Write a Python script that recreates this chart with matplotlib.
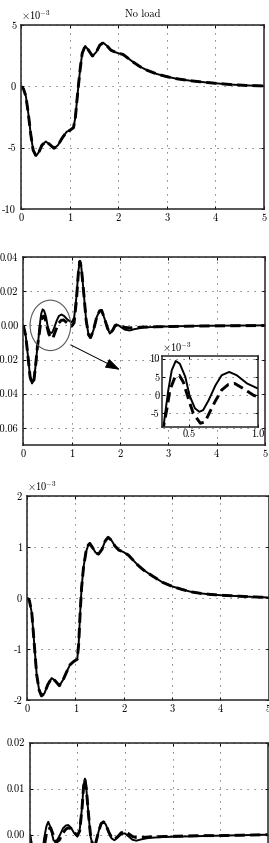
import matplotlib
matplotlib.use("Agg")
import matplotlib.pyplot as plt
from matplotlib.patches import Ellipse

plt.rcParams["font.family"] = ["cmr10", "DejaVu Serif"]
plt.rcParams["mathtext.fontset"] = "cm"
plt.rcParams["axes.unicode_minus"] = False
plt.rcParams["axes.formatter.use_mathtext"] = True

W, H = 269, 843
FS = 7.5

# panel 1 (x 1e-3), no load
p1_t = [0, 0.05, 0.1, 0.15, 0.2, 0.25, 0.31, 0.37, 0.43, 0.51, 0.58, 0.68, 0.76, 0.85, 0.94, 1.0,
        1.08, 1.12, 1.15, 1.18, 1.22, 1.26, 1.32, 1.38, 1.47, 1.55, 1.62, 1.69, 1.77, 1.85, 1.93,
        2.0, 2.1, 2.2, 2.3, 2.45, 2.6, 2.8, 3.0, 3.2, 3.5, 3.8, 4.0, 4.3, 4.6, 5.0]
p1_v = [0, -0.2, -0.8, -2.2, -3.9, -5.2, -5.68, -5.35, -4.8, -4.5, -4.7, -5.05, -4.8, -4.2, -3.7, -3.6,
        -3.37, -2.5, -1.2, 0.0, 1.5, 2.7, 3.29, 3.0, 2.47, 2.8, 3.35, 3.56, 3.3, 2.95, 2.8,
        2.7, 2.6, 2.3, 2.0, 1.6, 1.3, 1.0, 0.79, 0.62, 0.45, 0.32, 0.25, 0.15, 0.08, 0.03]

# panel 2
p2_t = [0, 0.05, 0.1, 0.14, 0.18, 0.22, 0.26, 0.29, 0.31, 0.32, 0.346, 0.371, 0.40, 0.43, 0.47,
        0.50, 0.54, 0.572, 0.60, 0.64, 0.69, 0.735, 0.79, 0.845, 0.92, 1.0, 1.05, 1.1, 1.14, 1.17,
        1.2, 1.25, 1.3, 1.35, 1.39, 1.45, 1.52, 1.58, 1.62, 1.68, 1.74, 1.79, 1.85, 1.9, 1.96,
        2.02, 2.1, 2.2, 2.3, 2.5, 2.8, 3.2, 3.6, 4.0, 4.5, 5.0]
p2_solid = [0, -0.006, -0.019, -0.030, -0.034, -0.032, -0.022, -0.013, -0.009, -0.0059, 0.0014,
            0.0068, 0.00935, 0.0086, 0.0050, 0.0, -0.0036, -0.00455, -0.0041, -0.0014, 0.0027,
            0.00545, 0.00635, 0.00545, 0.0032, 0.0018, 0.004, 0.017, 0.032, 0.0375, 0.034, 0.019,
            0.003, -0.0055, -0.0072, -0.003, 0.005, 0.0085, 0.0088, 0.004, -0.0015, -0.0048,
            -0.003, -0.0005, 0.0002, -0.001, -0.0025, -0.0030, -0.0022, -0.0012, -0.0008,
            -0.0005, -0.0003, -0.0002, -0.0001, 0.0]
p2d_t = [0, 0.05, 0.1, 0.14, 0.18, 0.22, 0.26, 0.29, 0.31, 0.334, 0.358, 0.395, 0.426, 0.455,
         0.492, 0.528, 0.58, 0.614, 0.65, 0.686, 0.735, 0.783, 0.83, 0.893, 0.966, 1.0, 1.05,
         1.1, 1.14, 1.17, 1.2, 1.25, 1.3, 1.35, 1.39, 1.45, 1.52, 1.58, 1.62, 1.68, 1.74, 1.79,
         1.85, 1.9, 1.96, 2.02, 2.1, 2.2, 2.3, 2.5, 2.8, 3.2, 3.6, 4.0, 4.5, 5.0]
p2_dash = [0, -0.006, -0.019, -0.030, -0.034, -0.032, -0.022, -0.013, -0.0088, -0.0041, 0.0014,
           0.0050, 0.00545, 0.0036, -0.0009, -0.0050, -0.0077, -0.0073, -0.0045, -0.0018, 0.0014,
           0.0029, 0.0032, 0.0018, 0.0, -0.0005, 0.0015, 0.015, 0.031, 0.0375, 0.034, 0.019,
           0.003, -0.0055, -0.0072, -0.003, 0.005, 0.0085, 0.0088, 0.004, -0.0015, -0.0046,
           -0.0028, 0.0, 0.0005, -0.0003, -0.0012, -0.0015, -0.0013, -0.0010, -0.0008, -0.0006,
           -0.0004, -0.0003, -0.0002, -0.0001]

# panel 3 (x 1e-3)
p3_t = [0, 0.05, 0.1, 0.15, 0.2, 0.25, 0.3, 0.36, 0.43, 0.51, 0.58, 0.67, 0.75, 0.82, 0.89, 0.96,
        1.04, 1.07, 1.1, 1.13, 1.17, 1.22, 1.27, 1.3, 1.35, 1.42, 1.48, 1.55, 1.62, 1.68, 1.75,
        1.82, 1.9, 2.0, 2.1, 2.2, 2.3, 2.41, 2.6, 2.8, 3.0, 3.2, 3.4, 3.6, 3.8, 4.0, 4.3, 4.6, 5.0]
p3_v = [0, -0.05, -0.3, -0.9, -1.5, -1.8, -1.92, -1.87, -1.7, -1.57, -1.62, -1.72, -1.6, -1.45,
        -1.31, -1.25, -1.2, -0.9, -0.3, 0.2, 0.6, 0.9, 1.04, 1.07, 1.0, 0.89, 0.86, 0.95, 1.12,
        1.19, 1.13, 1.02, 0.94, 0.9, 0.84, 0.74, 0.64, 0.55, 0.43, 0.31, 0.23, 0.17, 0.12, 0.09,
        0.07, 0.055, 0.04, 0.025, 0.01]

# panel 4
p4_t = [0, 0.05, 0.1, 0.15, 0.2, 0.25, 0.3, 0.35, 0.39, 0.44, 0.5, 0.55, 0.62, 0.7, 0.76, 0.81,
        0.87, 0.93, 1.0, 1.05, 1.1, 1.13, 1.16, 1.19, 1.23, 1.28, 1.33, 1.38, 1.45, 1.5, 1.55,
        1.6, 1.66, 1.72, 1.78, 1.85, 1.92, 2.0, 2.08, 2.16, 2.24, 2.35, 2.5, 2.8, 3.2, 3.6, 4.0,
        4.5, 5.0]
p4_solid = [0, -0.003, -0.008, -0.011, -0.010, -0.006, -0.001, 0.0018, 0.0028, 0.0015, -0.0012,
            -0.0016, -0.0004, 0.0014, 0.0020, 0.0021, 0.0015, 0.0004, -0.0004, 0.001, 0.006,
            0.0105, 0.0122, 0.010, 0.005, -0.0005, -0.0025, -0.0022, 0.0008, 0.0024, 0.0028,
            0.0022, 0.0005, -0.0008, -0.0012, -0.0006, 0.0001, 0.0003, -0.0004, -0.0011, -0.0013,
            -0.0010, -0.0007, -0.0005, -0.0004, -0.0003, -0.0002, -0.0001, 0.0]
p4_dash = [0, -0.003, -0.008, -0.011, -0.010, -0.007, -0.003, 0.0002, 0.0012, 0.0015, -0.0002,
           -0.0017, -0.0012, 0.0004, 0.0012, 0.0015, 0.0013, 0.0006, -0.0002, 0.0008, 0.0058,
           0.0103, 0.0121, 0.0100, 0.0050, -0.0004, -0.0024, -0.0021, 0.0008, 0.0024, 0.0028,
           0.0022, 0.0006, -0.0006, -0.0010, -0.0004, 0.0004, 0.0007, 0.0002, -0.0004, -0.0006,
           -0.0006, -0.0005, -0.0004, -0.0003, -0.0002, -0.0002, -0.0001, 0.0]

x_ticks = [0, 1, 2, 3, 4, 5]
x_labels = ["0", "1", "2", "3", "4", "5"]
p1_yticks = [-10, -5, 0, 5]
p1_ylabels = ["-10", "-5", "0", "5"]
p2_yticks = [-0.06, -0.04, -0.02, 0.0, 0.02, 0.04]
p2_ylabels = ["-0.06", "-0.04", "-0.02", "0.00", "0.02", "0.04"]
p3_yticks = [-2, -1, 0, 1, 2]
p3_ylabels = ["-2", "-1", "0", "1", "2"]
p4_yticks = [-0.02, -0.01, 0.0, 0.01, 0.02]
p4_ylabels = ["-0.02", "-0.01", "0.00", "0.01", "0.02"]
in_xticks = [0.5, 1.0]
in_xlabels = ["0.5", "1.0"]
in_yticks = [-5, 0, 5, 10]
in_ylabels = ["-5", "0", "5", "10"]

SOLID = dict(color="black", lw=1.4, solid_capstyle="round")
DASH = dict(color="black", lw=2.1, dashes=(3.5, 1.8))


def box(l, r, t, b):
    return [l / W, 1 - b / H, (r - l) / W, (b - t) / H]


def style(ax, xt, xl, yt, yl, xlim, ylim):
    ax.set_xlim(*xlim)
    ax.set_ylim(*ylim)
    ax.set_xticks(xt)
    ax.set_xticklabels(xl)
    ax.set_yticks(yt)
    ax.set_yticklabels(yl)
    ax.tick_params(direction="in", top=True, right=True, length=2.5, width=0.7,
                   labelsize=FS, pad=3.5, colors="black")
    ax.grid(True, color="0.35", lw=0.7, linestyle=(0, (1.2, 6)))
    for s in ax.spines.values():
        s.set_linewidth(1.1)
        s.set_color("0.15")


fig = plt.figure(figsize=(W / 100, H / 100), dpi=100)

# panel 1
ax1 = fig.add_axes(box(21, 264, 25, 209))
ax1.plot(p1_t, p1_v, **SOLID)
ax1.plot(p1_t, p1_v, **DASH)
style(ax1, x_ticks, x_labels, p1_yticks, p1_ylabels, (0, 5), (-10, 5))
ax1.set_title("No load", fontsize=FS, pad=6)
ax1.text(0.0, 1.015, r"$\times10^{-3}$", transform=ax1.transAxes, fontsize=FS,
         ha="left", va="bottom")

# panel 2
ax2 = fig.add_axes(box(23.3, 265, 257, 445))
ax2.plot(p2_t, p2_solid, **SOLID)
ax2.plot(p2d_t, p2_dash, **DASH)
style(ax2, x_ticks, x_labels, p2_yticks, p2_ylabels, (0, 5), (-0.07, 0.04))
ax2.add_patch(Ellipse((0.56, 0.0), 0.84, 0.0295, fill=False, ec="0.35", lw=0.8, zorder=5))
ax2.annotate("", xy=(2.0, -0.026), xytext=(0.98, -0.0114),
             arrowprops=dict(arrowstyle="-|>,head_length=0.9,head_width=0.3",
                             color="black", lw=0.7, shrinkA=0, shrinkB=0))

axi = fig.add_axes(box(162, 258, 355.7, 427.3))
axi.plot(p2_t, [v * 1000 for v in p2_solid], **SOLID)
axi.plot(p2d_t, [v * 1000 for v in p2_dash], **DASH)
style(axi, in_xticks, in_xlabels, in_yticks, in_ylabels, (0.3, 1.0), (-8.8, 10.8))
axi.tick_params(pad=1.5)
axi.text(0.0, 1.02, r"$\times10^{-3}$", transform=axi.transAxes, fontsize=FS,
         ha="left", va="bottom")

# panel 3
ax3 = fig.add_axes(box(27, 268.5, 496, 700))
ax3.plot(p3_t, p3_v, **SOLID)
ax3.plot(p3_t, p3_v, **DASH)
style(ax3, x_ticks, x_labels, p3_yticks, p3_ylabels, (0, 5), (-2, 2))
ax3.text(0.0, 1.015, r"$\times10^{-3}$", transform=ax3.transAxes, fontsize=FS,
         ha="left", va="bottom")

# panel 4 (cut off at the bottom)
ax4 = fig.add_axes(box(29.7, 267.7, 742.7, 926.7))
ax4.plot(p4_t, p4_solid, **SOLID)
ax4.plot(p4_t, p4_dash, **DASH)
style(ax4, x_ticks, x_labels, p4_yticks, p4_ylabels, (0, 5), (-0.02, 0.02))

fig.savefig("out.png", dpi=100)
